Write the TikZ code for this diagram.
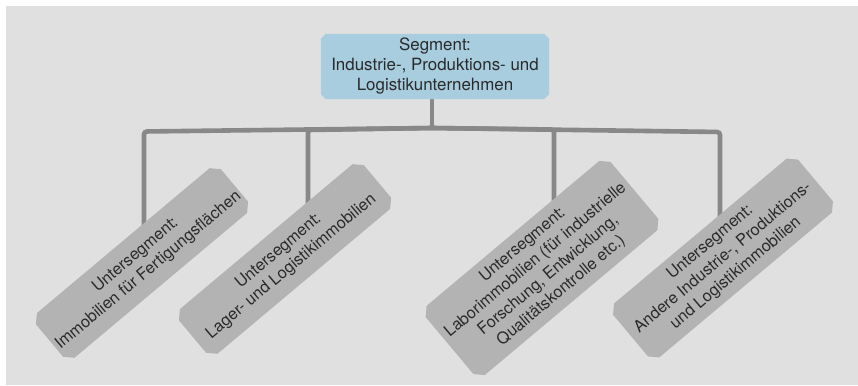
\documentclass[tikz,border=0pt]{standalone}
\usepackage{fontspec}
\setmainfont{TeX Gyre Heros}
\usetikzlibrary{backgrounds,calc}
\definecolor{panel}{HTML}{E0E0E0}
\definecolor{segblue}{HTML}{A8CDDF}
\definecolor{subgray}{HTML}{B3B3B3}
\definecolor{linegray}{HTML}{888888}
\definecolor{ink}{HTML}{2A2A2A}
\pgfdeclarelayer{boxes}
\pgfsetlayers{background,boxes,main}
\tikzset{
  basebox/.style={rectangle, inner sep=0pt, align=center, text=ink},
  segbox/.style={basebox, minimum width=228pt, minimum height=65pt,
    font=\fontsize{16.9}{20}\selectfont},
  subbox/.style={basebox, rotate=40, minimum width=241pt, minimum height=#1,
    font=\fontsize{16.3}{20}\selectfont},
  subbox/.default=58pt,
  conn/.style={draw=linegray, line width=4.6pt, rounded corners=3pt}
}
% fill a node's outline with its four corners cut off
\newcommand{\cutcorners}[3]{%
  \fill[#3]
    ($(#1.north west)!#2!(#1.north east)$) -- ($(#1.north east)!#2!(#1.north west)$)
    -- ($(#1.north east)!#2!(#1.south east)$) -- ($(#1.south east)!#2!(#1.north east)$)
    -- ($(#1.south east)!#2!(#1.south west)$) -- ($(#1.south west)!#2!(#1.south east)$)
    -- ($(#1.south west)!#2!(#1.north west)$) -- ($(#1.north west)!#2!(#1.south west)$)
    -- cycle;}
\begin{document}
\begin{tikzpicture}[x=1pt,y=-1pt]
\useasboundingbox (0,0) rectangle (858,385);

% segment box and the four sub-segment boxes
\node[segbox] (seg) at (435,66.5) {Segment:\\Industrie-, Produktions- und\\Logistikunternehmen};
\node[subbox] (u1) at (142,263) {Untersegment:\\Immobilien für Fertigungsflächen};
\node[subbox] (u2) at (285,259) {Untersegment:\\Lager- und Logistikimmobilien};
\node[subbox=90pt] (u3) at (542,268) {Untersegment:\\Laborimmobilien (für industrielle\\Forschung, Entwicklung,\\Qualitätskontrolle etc.)};
\node[subbox=70pt] (u4) at (723,258) {Untersegment:\\Andere Industrie-, Produktions-\\und Logistikimmobilien};

\begin{pgfonlayer}{boxes}
  \cutcorners{seg}{5pt}{segblue}
  \cutcorners{u1}{8pt}{subgray}
  \cutcorners{u2}{8pt}{subgray}
  \cutcorners{u3}{8pt}{subgray}
  \cutcorners{u4}{8pt}{subgray}
\end{pgfonlayer}

% branch points
\coordinate (hub) at (432,128);
\coordinate (d1) at ($(u1.center)+(2,0)$);
\coordinate (d2) at ($(u2.center)+(23,0)$);
\coordinate (d3) at ($(u3.center)+(12,0)$);
\coordinate (d4) at ($(u4.center)+(-3,0)$);

\begin{pgfonlayer}{background}
  \fill[panel] (6,6) rectangle (858,385);
  \draw[conn] (hub |- seg.south) -- (hub);
  \draw[conn] (hub) -- ($(hub -| d1)+(0,3.5)$) -- (d1);
  \draw[conn] (hub) -- ($(hub -| d2)+(0,2)$) -- (d2);
  \draw[conn] (hub) -- ($(hub -| d3)+(0,1.5)$) -- (d3);
  \draw[conn] (hub) -- ($(hub -| d4)+(0,4)$) -- (d4);
\end{pgfonlayer}
\end{tikzpicture}
\end{document}
